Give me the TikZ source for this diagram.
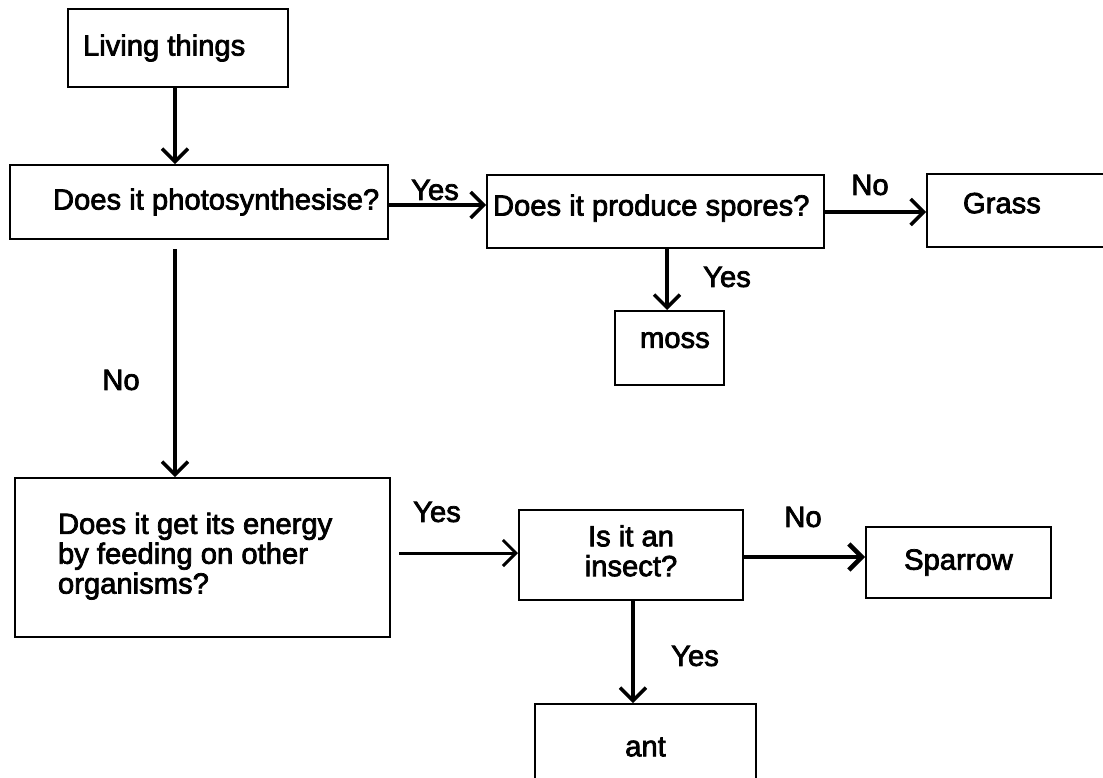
\documentclass[tikz,border=0pt]{standalone}
\usepackage{fontspec}
\setmainfont{Liberation Sans}[FakeBold=2.5]
\usetikzlibrary{arrows.meta}
\tikzset{
  box/.style={draw, line width=2pt, inner sep=0pt, rectangle, font=\fontsize{29.2}{29}\selectfont},
  arr/.style={line width=3.5pt, -{Straight Barb[length=13pt,width=26pt]}},
  lbl/.style={inner sep=0pt, font=\fontsize{29.2}{29}\selectfont},
}
\newcommand{\padl}[3]{\makebox[#1pt][l]{\hspace{#2pt}#3}}
\begin{document}
\begin{tikzpicture}[x=1pt,y=-1pt]
\useasboundingbox (0,0) rectangle (1103,777);
\fill[white] (0,0) rectangle (1103,777);
\clip (0,0) rectangle (1103,777);

% boxes
\node[box, minimum width=220pt, minimum height=78pt] (lt) at (178,48) {\padl{220}{15}{Living things}};
\node[box, minimum width=378pt, minimum height=74pt] (ph) at (199,202) {\padl{378}{43}{Does it photosynthesise?}};
\node[box, minimum width=337pt, minimum height=73pt] (sp) at (655.5,211.5) {\padl{337}{6}{\raisebox{13pt}{Does it produce spores?}}};
\node[box, minimum width=184pt, minimum height=73pt] (gr) at (1019,210.5) {\padl{184}{36}{\raisebox{15pt}{Grass}}};
\node[box, minimum width=109pt, minimum height=74pt] (mo) at (669.5,348) {\padl{109}{25}{\raisebox{16pt}{moss}}};
\node[box, minimum width=375pt, minimum height=159pt] (en) at (202.5,557.5) {\padl{375}{43}{\raisebox{11pt}{\begin{tabular}{@{}l@{}}Does it get its energy\\by feeding on other\\organisms?\end{tabular}}}};
\node[box, minimum width=224pt, minimum height=90pt] (in) at (631,555) {\raisebox{5pt}{\begin{tabular}{@{}c@{}}Is it an\\insect?\end{tabular}}};
\node[box, minimum width=185pt, minimum height=71pt] (spw) at (958.5,562.5) {\raisebox{-9pt}{Sparrow}};
\node[box, minimum width=221pt, minimum height=86pt] (ant) at (645.5,747) {ant};

% helper coordinates
\coordinate (xa) at (175,0);
\coordinate (xb) at (667,0);
\coordinate (xc) at (633,0);
\coordinate (ya) at (0,205);
\coordinate (yb) at (0,212);
\coordinate (yc) at (0,553);
\coordinate (yd) at (0,557);
\coordinate (phb) at ([yshift=-9pt]ph.south);
\coordinate (enr) at ([xshift=8pt]en.east);

% connectors
\draw[arr] (lt.south -| xa) -- (ph.north -| xa);
\draw[arr] (phb -| xa) -- (en.north -| xa);
\draw[arr] (ph.east |- ya) -- (sp.west |- ya);
\draw[arr] (sp.east |- yb) -- (gr.west |- yb);
\draw[arr] (sp.south -| xb) -- (mo.north -| xb);
\draw[arr, line width=3pt] (enr |- yc) -- (in.west |- yc);
\draw[arr, line width=4.5pt] (in.east |- yd) -- (spw.west |- yd);
\draw[arr] (in.south -| xc) -- (ant.north -| xc);

% labels
\node[lbl] (l1) at (435,190) {Yes};
\node[lbl] (l2) at (870,185) {No};
\node[lbl] (l3) at (727,277) {Yes};
\node[lbl] (l4) at (121,380) {No};
\node[lbl] (l5) at (437,512) {Yes};
\node[lbl] (l6) at (803,517) {No};
\node[lbl] (l7) at (695,656) {Yes};
\end{tikzpicture}
\end{document}
